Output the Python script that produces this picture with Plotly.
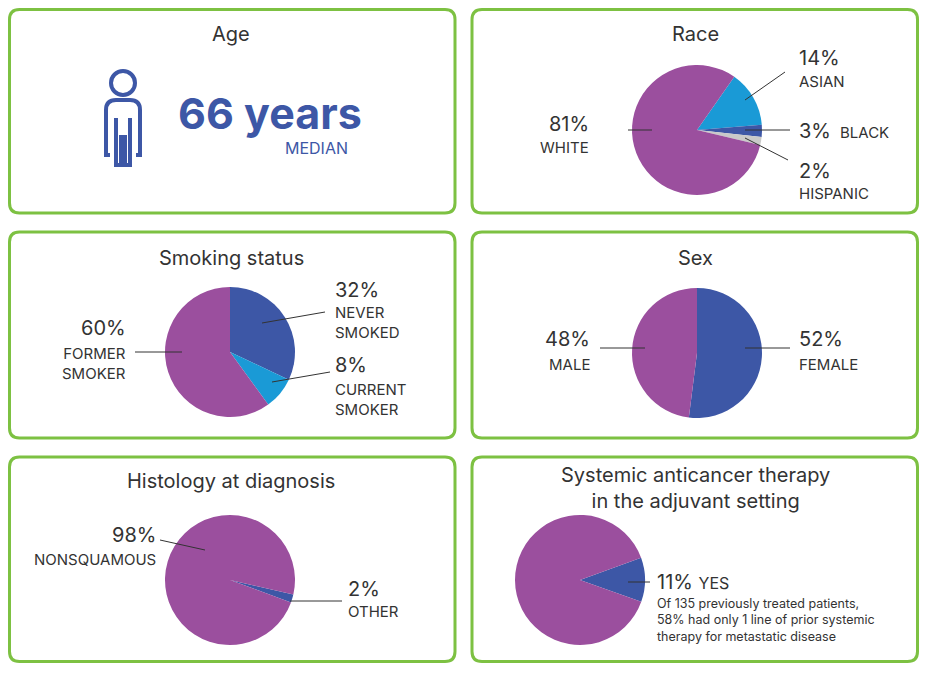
import plotly.graph_objects as go

W, H = 927, 677
OFF = 8  # browser body margin
FW, FH = W - 2 * OFF, H - 2 * OFF
PURPLE, BLUE, LBLUE, GRAY = '#9b4f9e', '#3d57a6', '#1a9ad6', '#c9c9c9'
GREEN, TXT = '#7dc142', '#333333'
FONT = 'Inter'

# data
race_labels = ['ASIAN', 'BLACK', 'HISPANIC', 'WHITE']
race_values = [14, 3, 2, 81]
smoke_labels = ['NEVER SMOKED', 'CURRENT SMOKER', 'FORMER SMOKER']
smoke_values = [32, 8, 60]
sex_labels = ['FEMALE', 'MALE']
sex_values = [52, 48]
hist_labels = ['OTHER', 'NONSQUAMOUS']
hist_values = [2, 98]
adj_labels = ['YES', 'NO']
adj_values = [11, 89]
median_age = 66


def px(x):
    return (x - OFF) / FW


def py(y):
    return 1 - (y - OFF) / FH


fig = go.Figure()


def pie(labels, values, colors, cx, cy, r, rot):
    fig.add_trace(go.Pie(labels=labels, values=values, sort=False, direction='clockwise',
                         rotation=rot, textinfo='none', hoverinfo='label+percent',
                         marker=dict(colors=colors, line=dict(width=0)),
                         domain=dict(x=[px(cx - r), px(cx + r)], y=[py(cy + r), py(cy - r)])))


pie(race_labels, race_values, [LBLUE, BLUE, GRAY, PURPLE], 697, 130, 65, 35)
pie(smoke_labels, smoke_values, [BLUE, LBLUE, PURPLE], 230, 352, 65, 0)
pie(sex_labels, sex_values, [BLUE, PURPLE], 697, 353, 65, 0)
pie(hist_labels, hist_values, [BLUE, PURPLE], 230, 580, 65, 103)
pie(adj_labels, adj_values, [BLUE, PURPLE], 580, 580, 65, 70)

shapes = []


def rbox(x0, y0, x1, y1, r=10):
    p = (f'M {px(x0 + r)} {py(y0)} L {px(x1 - r)} {py(y0)} Q {px(x1)} {py(y0)} {px(x1)} {py(y0 + r)} '
         f'L {px(x1)} {py(y1 - r)} Q {px(x1)} {py(y1)} {px(x1 - r)} {py(y1)} '
         f'L {px(x0 + r)} {py(y1)} Q {px(x0)} {py(y1)} {px(x0)} {py(y1 - r)} '
         f'L {px(x0)} {py(y0 + r)} Q {px(x0)} {py(y0)} {px(x0 + r)} {py(y0)} Z')
    shapes.append(dict(type='path', path=p, xref='paper', yref='paper',
                       line=dict(color=GREEN, width=3), layer='below'))


for y0, y1 in [(9.5, 213), (232, 438), (457, 661.5)]:
    rbox(9.5, y0, 455, y1)
    rbox(472, y0, 917.5, y1)


def seg(x0, y0, x1, y1):
    shapes.append(dict(type='line', xref='paper', yref='paper', x0=px(x0), y0=py(y0),
                       x1=px(x1), y1=py(y1), line=dict(color=TXT, width=1)))


# leader lines
seg(628, 130, 652, 130)
seg(745, 100, 785, 72)
seg(745, 130, 790, 130)
seg(745, 138, 788, 160)
seg(135, 352, 182, 352)
seg(262, 323, 325, 312)
seg(272, 382, 330, 372)
seg(600, 348, 645, 348)
seg(745, 348, 790, 348)
seg(160, 540, 205, 550)
seg(290, 601, 342, 601)
seg(628, 582, 650, 582)

# person icon
shapes.append(dict(type='circle', xref='paper', yref='paper', x0=px(111), y0=py(71),
                   x1=px(135), y1=py(95), line=dict(color=BLUE, width=4)))
body = (f'M {px(110)} {py(155)} L {px(106)} {py(155)} L {px(106)} {py(110)} '
        f'Q {px(106)} {py(100)} {px(116)} {py(100)} L {px(130)} {py(100)} '
        f'Q {px(140)} {py(100)} {px(140)} {py(110)} L {px(140)} {py(155)} L {px(136)} {py(155)} '
        f'M {px(116)} {py(118)} L {px(116)} {py(165)} L {px(121)} {py(165)} L {px(121)} {py(135)} '
        f'M {px(125)} {py(135)} L {px(125)} {py(165)} L {px(130)} {py(165)} L {px(130)} {py(118)}')
shapes.append(dict(type='path', path=body, xref='paper', yref='paper',
                   line=dict(color=BLUE, width=4)))

ann = []


def txt(x, y, s, size=15, color=TXT, xa='left', align='left', bold=False):
    if bold:
        s = f'<b>{s}</b>'
    ann.append(dict(x=px(x), y=py(y), xref='paper', yref='paper', text=s, showarrow=False,
                    xanchor=xa, yanchor='middle', align=align,
                    font=dict(family=FONT, size=size, color=color)))


# titles
txt(231, 34, 'Age', 20, xa='center')
txt(695, 34, 'Race', 20, xa='center')
txt(231, 258, 'Smoking status', 20, xa='center')
txt(695, 258, 'Sex', 20, xa='center')
txt(231, 481, 'Histology at diagnosis', 20, xa='center')
txt(695, 488, 'Systemic anticancer therapy<br>in the adjuvant setting', 20, xa='center', align='center')

txt(176, 113, f'{median_age} years', 43, BLUE, bold=True)
txt(350, 148, 'MEDIAN', 16, BLUE, xa='right')

# race
txt(591, 124, f'{race_values[3]}%', 20, xa='right', align='right')
txt(591, 147, race_labels[3], 15, xa='right', align='right')
txt(797, 58, f'{race_values[0]}%', 20)
txt(797, 82, race_labels[0], 15)
txt(797, 131, f'{race_values[1]}%', 20)
txt(838, 132, race_labels[1], 15)
txt(797, 171, f'{race_values[2]}%', 20)
txt(797, 194, race_labels[2], 15)

# smoking
txt(128, 328, f'{smoke_values[2]}%', 20, xa='right')
txt(128, 363, 'FORMER<br>SMOKER', 15, xa='right', align='right')
txt(333, 290, f'{smoke_values[0]}%', 20)
txt(333, 322, 'NEVER<br>SMOKED', 15)
txt(333, 365, f'{smoke_values[1]}%', 20)
txt(333, 399, 'CURRENT<br>SMOKER', 15)

# sex
txt(592, 339, f'{sex_values[1]}%', 20, xa='right')
txt(592, 364, sex_labels[1], 15, xa='right')
txt(797, 339, f'{sex_values[0]}%', 20)
txt(797, 364, sex_labels[0], 15)

# histology
txt(158, 535, f'{hist_values[1]}%', 20, xa='right')
txt(158, 559, hist_labels[1], 15, xa='right')
txt(346, 589, f'{hist_values[0]}%', 20)
txt(346, 611, hist_labels[0], 15)

# adjuvant
txt(655, 582, f'{adj_values[0]}% <span style="font-size:16px">YES</span>', 20)
txt(655, 620, 'Of 135 previously treated patients,<br>58% had only 1 line of prior systemic<br>therapy for metastatic disease', 12.5)

fig.update_layout(width=FW, height=FH, margin=dict(l=0, r=0, t=0, b=0), showlegend=False,
                  paper_bgcolor='white', plot_bgcolor='white', shapes=shapes, annotations=ann)
fig.write_html('out.html')
